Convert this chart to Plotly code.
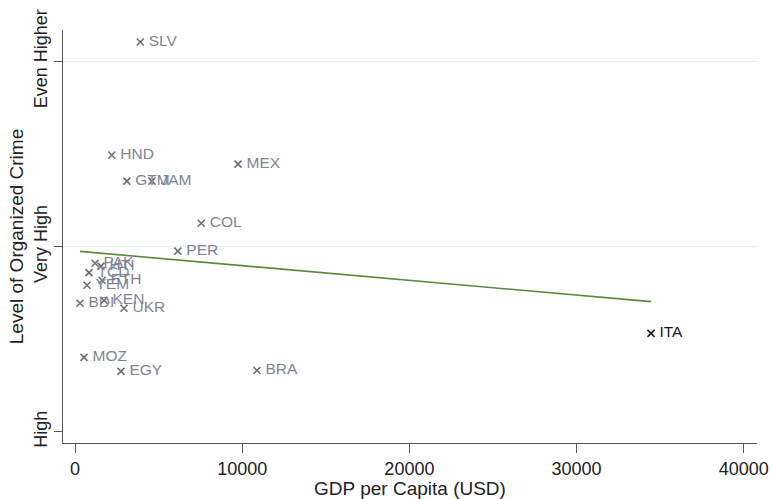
import numpy as np
import plotly.graph_objects as go

# Countries, GDP per capita (USD) and organized-crime level (1 = High, 2 = Very High, 3 = Even Higher)
countries = ["SLV", "HND", "GTM", "JAM", "MEX", "COL", "PER", "PAK", "HTI", "TCD",
             "ETH", "YEM", "BDI", "KEN", "UKR", "ITA", "MOZ", "EGY", "BRA"]
gdp = [3900, 2200, 3100, 4600, 9750, 7550, 6150, 1200, 1555, 840,
       1615, 718, 300, 1735, 2930, 34450, 540, 2750, 10885]
crime_level = [3.105, 2.495, 2.354, 2.354, 2.446, 2.127, 1.976, 1.911, 1.895, 1.860,
               1.819, 1.792, 1.695, 1.711, 1.668, 1.532, 1.403, 1.327, 1.332]

y_tick_vals = [1, 2, 3]
y_tick_text = ["High", "Very High", "Even Higher"]
grid_levels = [2, 3]
x_tick_vals = [0, 10000, 20000, 30000, 40000]
x_tick_text = ["0", "10000", "20000", "30000", "40000"]

highlight = "ITA"
point_color = "#6f6f6f"
label_color = "#7d8594"
highlight_color = "#1a1a1a"
fit_color = "#5b8a3c"
axis_color = "#555555"
font_family = "Liberation Sans, Arial, sans-serif"

marker_colors = [highlight_color if c == highlight else point_color for c in countries]
text_colors = [highlight_color if c == highlight else label_color for c in countries]

# Linear fit of crime level on GDP per capita
slope, intercept = np.polyfit(gdp, crime_level, 1)
fit_x = np.array([min(gdp), max(gdp)])
fit_y = intercept + slope * fit_x

fig = go.Figure()

fig.add_trace(go.Scatter(
    x=fit_x, y=fit_y, mode="lines",
    line=dict(color=fit_color, width=1.6),
    hoverinfo="skip", showlegend=False,
))

fig.add_trace(go.Scatter(
    x=gdp, y=crime_level, mode="markers+text",
    text=countries, texttemplate="\u2009%{text}", textposition="middle right",
    textfont=dict(family=font_family, size=15.5, color=text_colors),
    marker=dict(symbol="x-thin", size=7,
                line=dict(width=1.6, color=marker_colors)),
    showlegend=False,
))

# Horizontal reference lines at the upper level ticks
for lvl in grid_levels:
    fig.add_shape(type="line", xref="paper", x0=0, x1=1, yref="y", y0=lvl, y1=lvl,
                  line=dict(color="#e3eded", width=1.2), layer="below")

fig.update_layout(
    width=772, height=499,
    margin=dict(l=63, r=15, t=30, b=56),
    paper_bgcolor="white", plot_bgcolor="white",
    font=dict(family=font_family, color="#222222"),
    xaxis=dict(
        range=[-718, 40790], tickvals=x_tick_vals, ticktext=x_tick_text,
        automargin=False,
        ticks="outside", ticklen=9, tickwidth=1.2, tickcolor=axis_color,
        showline=True, linecolor=axis_color, linewidth=1.3,
        showgrid=False, zeroline=False,
        tickfont=dict(size=18, color="#222222"),
        title=dict(text="GDP per Capita (USD)", font=dict(size=19), standoff=0),
    ),
    yaxis=dict(
        range=[0.9405, 3.170], tickvals=y_tick_vals, ticktext=y_tick_text,
        tickangle=-90, automargin=False,
        ticks="outside", ticklen=8, tickwidth=1.2, tickcolor=axis_color,
        showline=True, linecolor=axis_color, linewidth=1.3,
        showgrid=False, zeroline=False,
        tickfont=dict(size=18, color="#222222"),
        title=dict(text="Level of Organized Crime", font=dict(size=19), standoff=2),
    ),
)

fig.write_html("out.html")
